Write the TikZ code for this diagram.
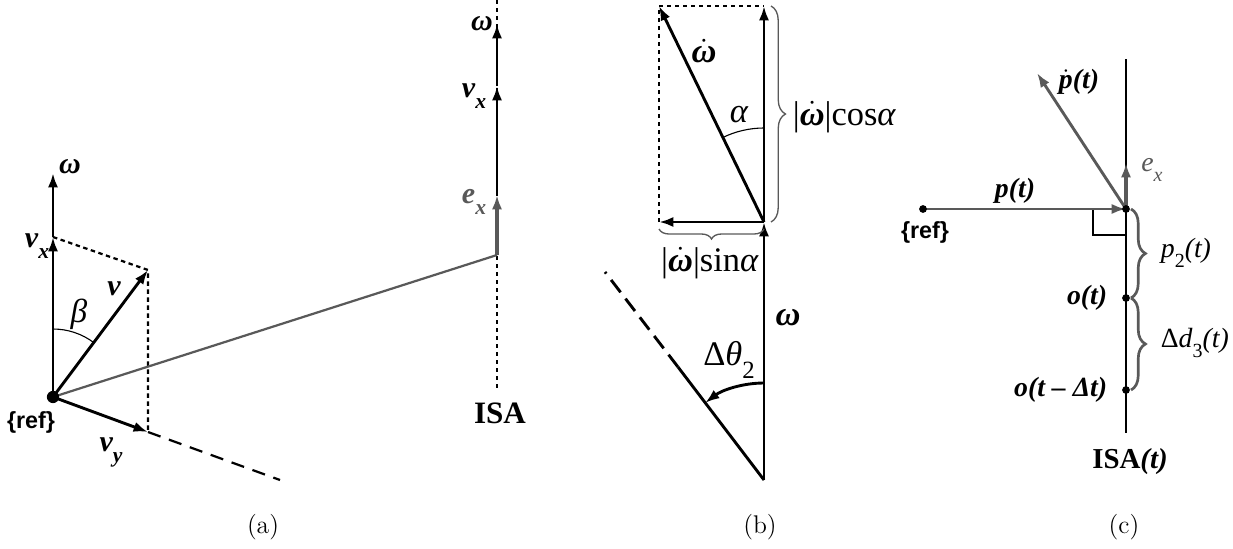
\documentclass[tikz,border=0pt]{standalone}
\usepackage{fontspec}
\usepackage{graphicx}
\usetikzlibrary{arrows.meta, decorations.pathreplacing, calc}
\newfontfamily\tnr{Liberation Serif}
\newfontfamily\arl{Liberation Sans}
\definecolor{dkgray}{HTML}{595959}
\newcommand{\lowsub}[1]{\raisebox{-0.8ex}{\scalebox{0.72}{#1}}}
\newcommand{\dotom}{$\dot{\hbox{\tnr\bfseries\itshape ω}}$}

\begin{document}
\begin{tikzpicture}[
  x=0.45pt, y=0.45pt,
  >={Latex[length=6.5pt, width=4.6pt]},
  vec/.style={->, line width=1.3pt, black},
  gvec/.style={->, line width=1.3pt, dkgray},
  gline/.style={line width=1pt, dkgray},
  dotline/.style={line width=1pt, dash pattern=on 2pt off 1.6pt},
  longdash/.style={line width=1pt, dash pattern=on 6pt off 4pt},
  gbrace/.style 2 args={decorate, decoration={brace, amplitude=#1}, dkgray, line width=#2},
  dotpt/.style={circle, fill=black, inner sep=0pt, minimum size=#1},
  lblA/.style={font=\fontsize{13.5}{15}\selectfont\tnr\bfseries\itshape},
  lblB/.style={font=\fontsize{15.5}{17}\selectfont\tnr},
  lblC/.style={font=\fontsize{12.5}{14}\selectfont\tnr},
  boldC/.style={font=\fontsize{12.5}{14}\selectfont\tnr\bfseries\itshape},
  reflbl/.style={font=\fontsize{10.5}{12}\selectfont\arl\bfseries},
  isalbl/.style={font=\fontsize{14}{16}\selectfont\tnr\bfseries},
  caption/.style={font=\fontsize{11.5}{13}\selectfont},
]
\useasboundingbox (0,0) rectangle (1233,548);

% =============================================
% (a)
% =============================================
\coordinate (refA) at (53,151);
\coordinate (omA) at (53,375);
\coordinate (vxA) at (53,311);
\coordinate (vA) at (148,278);
\coordinate (vyA) at (148,116);
\coordinate (dashA) at (280,68);
\coordinate (isaTop) at (497,548);
\coordinate (isaBot) at (497,160);
\coordinate (isaP) at (497,293);
\coordinate (exA) at (497,353);
\coordinate (vxA2) at (497,462);
\coordinate (omA2) at (497,524);

% ISA and projections
\draw[dotline] (isaTop) -- (isaBot);
\draw[dotline] (vxA) -- (vA) -- (vyA);
\draw[longdash] (vyA) -- (dashA);
\draw[gline] (refA) -- (isaP);

% beta arc
\draw[line width=0.5pt] ($(refA)+(90:68)$) arc[start angle=90, end angle=53.2, radius=68];

% vectors at {ref}
\draw[vec] (refA) -- (vxA);
\draw[vec] (vxA) -- (omA);
\draw[vec] (refA) -- (vA);
\draw[vec] (refA) -- (vyA);
\node[dotpt=5.5pt] (refdotA) at (refA) {};

% vectors on ISA
\draw[gvec, line width=1.6pt] (isaP) -- (exA);
\draw[vec] (exA) -- (vxA2);
\draw[vec] (vxA2) -- (omA2);

% labels
\node[lblA] (omlblA) at (70,381) {ω};
\node[lblA] (vxlblA) at (37,302) {v\lowsub{x}};
\node[lblA] (vlblA) at (114,259) {v};
\node[font=\fontsize{15}{17}\selectfont\tnr\itshape] (betalbl) at (79,234) {β};
\node[lblA] (vylblA) at (111,96) {v\lowsub{y}};
\node[reflbl] (reflblA) at (31,126) {\{ref\}};
\node[lblA] (omlblA2) at (482,524) {ω};
\node[lblA] (vxlblA2) at (474,452) {v\lowsub{x}};
\node[lblA, text=dkgray] (exlblA) at (474,346) {e\lowsub{x}};
\node[isalbl] (isalblA) at (500,135) {ISA};
\node[caption] (capA) at (263,21) {(a)};

% =============================================
% (b)
% =============================================
\coordinate (oB) at (764,68);
\coordinate (mB) at (764,326);
\coordinate (trB) at (764,542);
\coordinate (tlB) at (659,542);
\coordinate (blB) at (659,326);
\coordinate (solB) at (678,181);
\coordinate (dashB) at (605,276);

\draw[dotline] (blB) -- (tlB) -- (trB);
\draw[line width=1.3pt] (oB) -- (solB);
\draw[line width=1.3pt, dash pattern=on 7pt off 3.6pt] (solB) -- (dashB);

\draw[vec] (oB) -- (mB);
\draw[vec] (mB) -- (tlB);
\draw[vec] (mB) -- (trB);
\draw[vec] (mB) -- (blB);

% angles
\draw[line width=0.5pt] ($(mB)+(90:94)$) arc[start angle=90, end angle=115.9, radius=94];
\draw[->, line width=1.3pt] ($(oB)+(90:97)$) arc[start angle=90, end angle=127.4, radius=97];

% braces
\draw[gbrace={6.5pt}{0.6pt}] ($(trB)+(7,0)$) -- ($(mB)+(7,0)$);
\draw[gbrace={4.5pt}{0.6pt}] ($(mB)+(0,-7)$) -- ($(blB)+(0,-7)$);

% labels
\node[lblB] (wdotlbl) at (704,497) {\dotom};
\node[lblB] (alphalbl) at (739,433) {\itshape α};
\node[lblB, anchor=west] (coslbl) at (785,431) {|\dotom|cos\textit{α}};
\node[lblB] (sinlbl) at (710,285) {|\dotom|sin\textit{α}};
\node[lblB] (omlblB) at (788,230) {\bfseries\itshape ω};
\node[lblB] (thetalbl) at (729,188) {Δ\textit{θ}\lowsub{2}};
\node[caption] (capB) at (760,21) {(b)};

% =============================================
% (c)
% =============================================
\coordinate (isaTopC) at (1126,489);
\coordinate (isaBotC) at (1126,115);
\coordinate (pC) at (1126,339);
\coordinate (refC) at (923,339);
\coordinate (pdotC) at (1037,475);
\coordinate (exC) at (1126,385);
\coordinate (oC) at (1126,250);
\coordinate (odC) at (1126,158);

\draw[line width=1.3pt] (isaTopC) -- (isaBotC);
\draw[line width=0.5pt] (1093,339) -- (1093,313) -- (1126,313);
\draw[gvec] (refC) -- (pC);
\draw[gvec] (pC) -- (pdotC);
\draw[gvec, line width=1.6pt] (pC) -- (exC);

\node[dotpt=3.5pt] (refdotC) at (refC) {};
\node[dotpt=3.5pt] (pdotpt) at (pC) {};
\node[dotpt=3.5pt] (odotpt) at (oC) {};
\node[dotpt=3.5pt] (oddotpt) at (odC) {};

% braces
\draw[gbrace={6.5pt}{1.2pt}] ($(pC)+(5,0)$) -- ($(oC)+(5,0)$);
\draw[gbrace={6.5pt}{1.2pt}] ($(oC)+(5,0)$) -- ($(odC)+(5,0)$);

% labels
\node[boldC] (plbl) at (1015,357) {p(t)};
\node[reflbl] (reflblC) at (925,316) {\{ref\}};
\node[boldC] (pdotlbl) at (1079,466)
  {$\dot{\hbox{\tnr\bfseries\itshape p}}$(t)};
\node[lblC, text=dkgray] (exlblC) at (1152,378) {\itshape e\lowsub{\itshape x}};
\node[lblC, anchor=west] (p2lbl) at (1153,295) {\itshape p\lowsub{\upshape 2}(t)};
\node[lblC, anchor=west] (d3lbl) at (1153,205) {Δ\textit{d}\lowsub{3}\textit{(t)}};
\node[boldC, anchor=east] (olbl) at (1115,250) {o(t)};
\node[boldC, anchor=east] (odlbl) at (1115,158) {o(t – Δt)};
\node[isalbl, font=\fontsize{13}{15}\selectfont\tnr\bfseries] (isalblC) at (1130,86) {ISA\textit{(t)}};
\node[caption] (capC) at (1124,21) {(c)};

\end{tikzpicture}
\end{document}
